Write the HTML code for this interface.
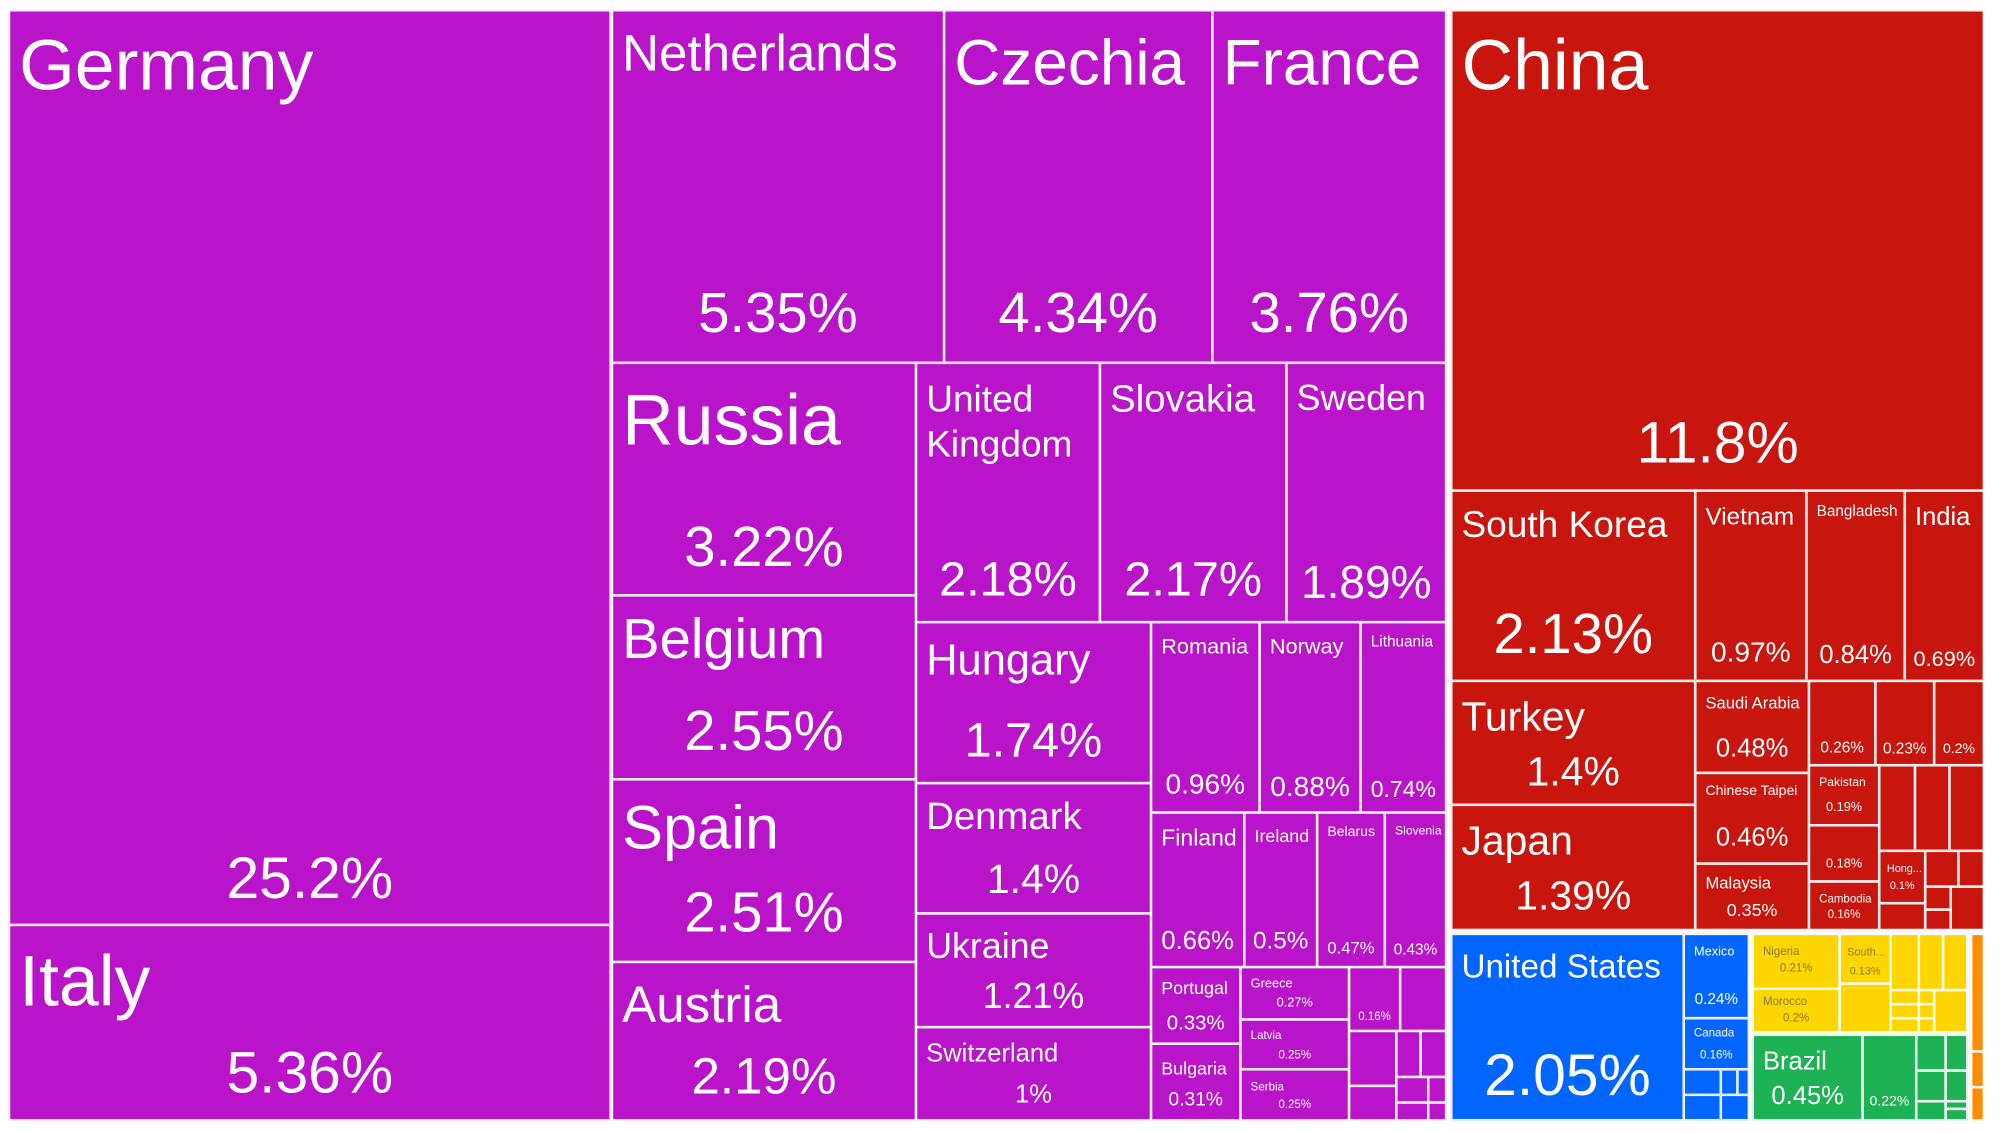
<!DOCTYPE html>
<html><head><meta charset="utf-8"><style>
html,body{margin:0;padding:0;background:#fff;width:2002px;height:1132px;overflow:hidden}
#w{position:absolute;left:0;top:0;width:1560px;height:884px;transform:scale(1.2775);transform-origin:0 0;font-family:"Liberation Sans",sans-serif}
.b{position:absolute;box-sizing:border-box;border:1px solid #fff;overflow:hidden;color:#fff}
.n{position:absolute;left:7px;white-space:nowrap;transform:translateY(-50%);line-height:1}
.p{position:absolute;left:0;right:0;text-align:center;transform:translateY(-50%);line-height:1;white-space:nowrap}
.e{background:#B914C9}.a{background:#C8150D}.u{background:#0066FF}.y{background:#FFD600;color:#8a7a30}.g{background:#1DB254}.o{background:#FF8C00}
</style></head><body><div id="w">
<div class="b e" style="left:7px;top:8px;width:471px;height:716px"><span class="n" style="top:42px;font-size:56px">Germany</span><span class="p" style="top:678px;font-size:46px">25.2%</span></div>
<div class="b e" style="left:7px;top:724px;width:471px;height:153px"><span class="n" style="top:43px;font-size:56px">Italy</span><span class="p" style="top:114px;font-size:46px">5.36%</span></div>
<div class="b e" style="left:479px;top:8px;width:260px;height:276px"><span class="n" style="top:33px;font-size:40px">Netherlands</span><span class="p" style="top:237px;font-size:44px">5.35%</span></div>
<div class="b e" style="left:739px;top:8px;width:210px;height:276px"><span class="n" style="top:40px;font-size:50px">Czechia</span><span class="p" style="top:237px;font-size:44px">4.34%</span></div>
<div class="b e" style="left:949px;top:8px;width:183px;height:276px"><span class="n" style="top:40px;font-size:50px">France</span><span class="p" style="top:237px;font-size:44px">3.76%</span></div>
<div class="b e" style="left:479px;top:284px;width:238px;height:182px"><span class="n" style="top:44px;font-size:56px">Russia</span><span class="p" style="top:144px;font-size:44px">3.22%</span></div>
<div class="b e" style="left:479px;top:466px;width:238px;height:144px"><span class="n" style="top:34px;font-size:44px">Belgium</span><span class="p" style="top:106px;font-size:44px">2.55%</span></div>
<div class="b e" style="left:479px;top:610px;width:238px;height:143px"><span class="n" style="top:38px;font-size:48px">Spain</span><span class="p" style="top:104px;font-size:44px">2.51%</span></div>
<div class="b e" style="left:479px;top:753px;width:238px;height:124px"><span class="n" style="top:33px;font-size:40px">Austria</span><span class="p" style="top:89px;font-size:40px">2.19%</span></div>
<div class="b e" style="left:717px;top:284px;width:144px;height:203px"><span class="n" style="top:46px;font-size:29px;line-height:1.2">United<br>Kingdom</span><span class="p" style="top:169px;font-size:38px">2.18%</span></div>
<div class="b e" style="left:861px;top:284px;width:146px;height:203px"><span class="n" style="top:28px;font-size:30px">Slovakia</span><span class="p" style="top:169px;font-size:38px">2.17%</span></div>
<div class="b e" style="left:1007px;top:284px;width:125px;height:203px"><span class="n" style="top:27px;font-size:28px">Sweden</span><span class="p" style="top:171px;font-size:36px">1.89%</span></div>
<div class="b e" style="left:717px;top:487px;width:184px;height:126px"><span class="n" style="top:29px;font-size:34px">Hungary</span><span class="p" style="top:92px;font-size:38px">1.74%</span></div>
<div class="b e" style="left:717px;top:613px;width:184px;height:102px"><span class="n" style="top:26px;font-size:30px">Denmark</span><span class="p" style="top:74px;font-size:32px">1.4%</span></div>
<div class="b e" style="left:717px;top:715px;width:184px;height:89px"><span class="n" style="top:25px;font-size:28px">Ukraine</span><span class="p" style="top:64px;font-size:28px">1.21%</span></div>
<div class="b e" style="left:717px;top:804px;width:184px;height:73px"><span class="n" style="top:20px;font-size:20px">Switzerland</span><span class="p" style="top:52px;font-size:20px">1%</span></div>
<div class="b e" style="left:901px;top:487px;width:85px;height:149px"><span class="n" style="top:18px;font-size:17px">Romania</span><span class="p" style="top:126px;font-size:22px">0.96%</span></div>
<div class="b e" style="left:986px;top:487px;width:79px;height:149px"><span class="n" style="top:18px;font-size:17px">Norway</span><span class="p" style="top:128px;font-size:22px">0.88%</span></div>
<div class="b e" style="left:1065px;top:487px;width:67px;height:149px"><span class="n" style="top:14px;font-size:12px">Lithuania</span><span class="p" style="top:130px;font-size:18px">0.74%</span></div>
<div class="b e" style="left:901px;top:636px;width:73px;height:121px"><span class="n" style="top:19px;font-size:18px">Finland</span><span class="p" style="top:100px;font-size:20px">0.66%</span></div>
<div class="b e" style="left:974px;top:636px;width:57px;height:121px"><span class="n" style="top:17px;font-size:14px">Ireland</span><span class="p" style="top:100px;font-size:19px">0.5%</span></div>
<div class="b e" style="left:1031px;top:636px;width:53px;height:121px"><span class="n" style="top:15px;font-size:11px">Belarus</span><span class="p" style="top:105px;font-size:13px">0.47%</span></div>
<div class="b e" style="left:1084px;top:636px;width:48px;height:121px"><span class="n" style="top:14px;font-size:9.5px">Slovenia</span><span class="p" style="top:106px;font-size:12px">0.43%</span></div>
<div class="b e" style="left:901px;top:757px;width:70px;height:60px"><span class="n" style="top:15px;font-size:14px">Portugal</span><span class="p" style="top:44px;font-size:16px">0.33%</span></div>
<div class="b e" style="left:901px;top:817px;width:70px;height:60px"><span class="n" style="top:18px;font-size:14px">Bulgaria</span><span class="p" style="top:43px;font-size:15px">0.31%</span></div>
<div class="b e" style="left:971px;top:757px;width:85px;height:41px"><span class="n" style="top:13px;font-size:10px">Greece</span><span class="p" style="top:28px;font-size:10px">0.27%</span></div>
<div class="b e" style="left:971px;top:798px;width:85px;height:39px"><span class="n" style="top:12px;font-size:9px">Latvia</span><span class="p" style="top:27px;font-size:9px">0.25%</span></div>
<div class="b e" style="left:971px;top:837px;width:85px;height:40px"><span class="n" style="top:13px;font-size:9px">Serbia</span><span class="p" style="top:27px;font-size:9px">0.25%</span></div>
<div class="b e" style="left:1056px;top:757px;width:40px;height:50px"><span class="p" style="top:38px;font-size:9px">0.16%</span></div>
<div class="b e" style="left:1096px;top:757px;width:36px;height:50px"></div>
<div class="b e" style="left:1056px;top:807px;width:37px;height:43px"></div>
<div class="b e" style="left:1056px;top:850px;width:37px;height:27px"></div>
<div class="b e" style="left:1093px;top:807px;width:19px;height:36px"></div>
<div class="b e" style="left:1112px;top:807px;width:20px;height:36px"></div>
<div class="b e" style="left:1093px;top:843px;width:25px;height:20px"></div>
<div class="b e" style="left:1118px;top:843px;width:14px;height:20px"></div>
<div class="b e" style="left:1093px;top:863px;width:25px;height:14px"></div>
<div class="b e" style="left:1118px;top:863px;width:14px;height:14px"></div>

<div class="b a" style="left:1136px;top:8px;width:417px;height:376px"><span class="n" style="top:42px;font-size:56px">China</span><span class="p" style="top:337px;font-size:46px">11.8%</span></div>
<div class="b a" style="left:1136px;top:384px;width:191px;height:149px"><span class="n" style="top:27px;font-size:29px">South Korea</span><span class="p" style="top:112px;font-size:44px">2.13%</span></div>
<div class="b a" style="left:1327px;top:384px;width:87px;height:149px"><span class="n" style="top:20px;font-size:19px">Vietnam</span><span class="p" style="top:126px;font-size:22px">0.97%</span></div>
<div class="b a" style="left:1414px;top:384px;width:77px;height:149px"><span class="n" style="top:15px;font-size:12px">Bangladesh</span><span class="p" style="top:128px;font-size:20px">0.84%</span></div>
<div class="b a" style="left:1491px;top:384px;width:62px;height:149px"><span class="n" style="top:20px;font-size:20px">India</span><span class="p" style="top:131px;font-size:17px">0.69%</span></div>
<div class="b a" style="left:1136px;top:533px;width:191px;height:97px"><span class="n" style="top:27px;font-size:32px">Turkey</span><span class="p" style="top:70px;font-size:32px">1.4%</span></div>
<div class="b a" style="left:1136px;top:630px;width:191px;height:98px"><span class="n" style="top:27px;font-size:32px">Japan</span><span class="p" style="top:70px;font-size:32px">1.39%</span></div>
<div class="b a" style="left:1327px;top:533px;width:89px;height:72px"><span class="n" style="top:16px;font-size:13px">Saudi Arabia</span><span class="p" style="top:52px;font-size:20px">0.48%</span></div>
<div class="b a" style="left:1327px;top:605px;width:89px;height:71px"><span class="n" style="top:14px;font-size:11px">Chinese Taipei</span><span class="p" style="top:50px;font-size:20px">0.46%</span></div>
<div class="b a" style="left:1327px;top:676px;width:89px;height:52px"><span class="n" style="top:14px;font-size:13px">Malaysia</span><span class="p" style="top:35px;font-size:14px">0.35%</span></div>
<div class="b a" style="left:1416px;top:533px;width:52px;height:66px"><span class="p" style="top:51px;font-size:12px">0.26%</span></div>
<div class="b a" style="left:1468px;top:533px;width:46px;height:66px"><span class="p" style="top:52px;font-size:12px">0.23%</span></div>
<div class="b a" style="left:1514px;top:533px;width:39px;height:66px"><span class="p" style="top:53px;font-size:11px">0.2%</span></div>
<div class="b a" style="left:1416px;top:599px;width:55px;height:47px"><span class="n" style="top:13px;font-size:9.5px">Pakistan</span><span class="p" style="top:33px;font-size:10px">0.19%</span></div>
<div class="b a" style="left:1416px;top:646px;width:55px;height:44px"><span class="p" style="top:30px;font-size:10px">0.18%</span></div>
<div class="b a" style="left:1416px;top:690px;width:55px;height:38px"><span class="n" style="top:13px;font-size:9px">Cambodia</span><span class="p" style="top:25px;font-size:9px">0.16%</span></div>
<div class="b a" style="left:1471px;top:599px;width:28px;height:67px"></div>
<div class="b a" style="left:1499px;top:599px;width:27px;height:67px"></div>
<div class="b a" style="left:1526px;top:599px;width:27px;height:67px"></div>
<div class="b a" style="left:1471px;top:666px;width:36px;height:41px"><span class="n" style="top:13px;font-size:8.5px;left:5px">Hong...</span><span class="p" style="top:26px;font-size:8.5px">0.1%</span></div>
<div class="b a" style="left:1507px;top:666px;width:26px;height:28px"></div>
<div class="b a" style="left:1533px;top:666px;width:20px;height:28px"></div>
<div class="b a" style="left:1507px;top:694px;width:20px;height:18px"></div>
<div class="b a" style="left:1527px;top:694px;width:26px;height:34px"></div>
<div class="b a" style="left:1471px;top:707px;width:36px;height:21px"></div>
<div class="b a" style="left:1507px;top:712px;width:20px;height:16px"></div>

<div class="b u" style="left:1136px;top:731px;width:182px;height:146px"><span class="n" style="top:24px;font-size:26px">United States</span><span class="p" style="top:109px;font-size:46px">2.05%</span></div>
<div class="b u" style="left:1318px;top:731px;width:51px;height:66px"><span class="n" style="top:14px;font-size:10px">Mexico</span><span class="p" style="top:50px;font-size:12px">0.24%</span></div>
<div class="b u" style="left:1318px;top:797px;width:51px;height:40px"><span class="n" style="top:11px;font-size:9px">Canada</span><span class="p" style="top:28px;font-size:9px">0.16%</span></div>
<div class="b u" style="left:1318px;top:837px;width:29px;height:20px"></div>
<div class="b u" style="left:1347px;top:837px;width:13px;height:20px"></div>
<div class="b u" style="left:1360px;top:837px;width:9px;height:20px"></div>
<div class="b u" style="left:1318px;top:857px;width:29px;height:20px"></div>
<div class="b u" style="left:1347px;top:857px;width:22px;height:20px"></div>

<div class="b y" style="left:1372px;top:731px;width:68px;height:43px"><span class="n" style="top:13px;font-size:9px">Nigeria</span><span class="p" style="top:26px;font-size:9px">0.21%</span></div>
<div class="b y" style="left:1372px;top:774px;width:68px;height:34px"><span class="n" style="top:9px;font-size:9px">Morocco</span><span class="p" style="top:22px;font-size:9px">0.2%</span></div>
<div class="b y" style="left:1440px;top:731px;width:40px;height:39px"><span class="n" style="top:13px;font-size:8.5px;left:5px">South...</span><span class="p" style="top:28px;font-size:8.5px">0.13%</span></div>
<div class="b y" style="left:1440px;top:770px;width:40px;height:38px"></div>
<div class="b y" style="left:1480px;top:731px;width:22px;height:44px"></div>
<div class="b y" style="left:1502px;top:731px;width:19px;height:44px"></div>
<div class="b y" style="left:1521px;top:731px;width:19px;height:44px"></div>
<div class="b y" style="left:1480px;top:775px;width:22px;height:11px"></div>
<div class="b y" style="left:1480px;top:786px;width:22px;height:11px"></div>
<div class="b y" style="left:1480px;top:797px;width:22px;height:11px"></div>
<div class="b y" style="left:1502px;top:775px;width:12px;height:11px"></div>
<div class="b y" style="left:1502px;top:786px;width:12px;height:11px"></div>
<div class="b y" style="left:1502px;top:797px;width:12px;height:11px"></div>
<div class="b y" style="left:1514px;top:775px;width:26px;height:33px"></div>

<div class="b g" style="left:1372px;top:810px;width:86px;height:67px"><span class="n" style="top:20px;font-size:20px">Brazil</span><span class="p" style="top:47px;font-size:20px">0.45%</span></div>
<div class="b g" style="left:1458px;top:810px;width:42px;height:67px"><span class="p" style="top:52px;font-size:11px">0.22%</span></div>
<div class="b g" style="left:1500px;top:810px;width:23px;height:28px"></div>
<div class="b g" style="left:1523px;top:810px;width:17px;height:28px"></div>
<div class="b g" style="left:1500px;top:838px;width:23px;height:24px"></div>
<div class="b g" style="left:1523px;top:838px;width:17px;height:24px"></div>
<div class="b g" style="left:1500px;top:862px;width:23px;height:15px"></div>
<div class="b g" style="left:1523px;top:862px;width:17px;height:6px"></div>
<div class="b g" style="left:1523px;top:868px;width:17px;height:9px"></div>

<div class="b o" style="left:1543px;top:731px;width:10px;height:92px"></div>
<div class="b o" style="left:1543px;top:823px;width:10px;height:28px"></div>
<div class="b o" style="left:1543px;top:851px;width:10px;height:26px"></div>
</div></body></html>
